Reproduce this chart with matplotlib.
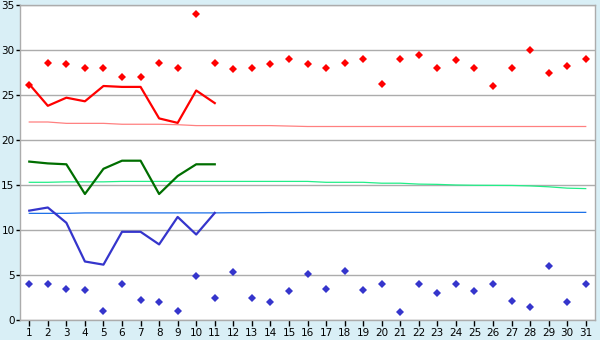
import matplotlib.pyplot as plt

days = list(range(1, 32))

# daily max / min (diamonds)
max_temp = [26.1, 28.6, 28.5, 28.0, 28.0, 27.0, 27.0, 28.6, 28.0, 34.0,
            28.6, 27.85, 28.0, 28.4, 29.0, 28.5, 28.0, 28.6, 29.0, 26.2,
            29.0, 29.5, 28.0, 28.85, 28.0, 26.0, 28.0, 30.0, 27.5, 28.2, 29.0]
min_temp = [4.0, 4.0, 3.4, 3.3, 1.0, 4.0, 2.2, 2.0, 1.0, 4.85,
            2.4, 5.3, 2.5, 2.0, 3.2, 5.1, 3.4, 5.5, 3.3, 4.0,
            0.85, 4.0, 3.0, 4.0, 3.2, 4.0, 2.1, 1.4, 6.0, 2.0, 4.0]

# first 11 days, thick lines
line_days = list(range(1, 12))
max_line = [26.2, 23.8, 24.7, 24.3, 26.0, 25.9, 25.9, 22.4, 21.9, 25.5, 24.1]
mean_line = [17.6, 17.4, 17.3, 14.0, 16.8, 17.7, 17.7, 14.0, 16.0, 17.3, 17.3]
min_line = [12.15, 12.5, 10.8, 6.5, 6.15, 9.8, 9.8, 8.4, 11.45, 9.5, 11.9]

# normals, thin lines
normal_max = [22.0, 22.0, 21.85, 21.85, 21.85, 21.75, 21.75, 21.75, 21.7, 21.6,
              21.6, 21.6, 21.6, 21.6, 21.55, 21.5, 21.5, 21.5, 21.5, 21.5,
              21.5, 21.5, 21.5, 21.5, 21.5, 21.5, 21.5, 21.5, 21.5, 21.5, 21.5]
normal_mean = [15.3, 15.3, 15.35, 15.35, 15.35, 15.4, 15.4, 15.4, 15.4, 15.4,
               15.4, 15.4, 15.4, 15.4, 15.4, 15.4, 15.3, 15.3, 15.3, 15.2,
               15.2, 15.1, 15.07, 15.0, 14.97, 14.96, 14.95, 14.9, 14.8, 14.65, 14.6]
normal_min = [11.85, 11.85, 11.85, 11.9, 11.9, 11.9, 11.9, 11.9, 11.9, 11.9,
              11.9, 11.92, 11.92, 11.94, 11.94, 11.95, 11.95, 11.96, 11.96, 11.96,
              11.96, 11.96, 11.96, 11.96, 11.96, 11.96, 11.96, 11.96, 11.96, 11.96, 11.96]

bg = '#d9eff6'
grid_c = '#acacac'

fig = plt.figure(figsize=(6, 3.4), dpi=100, facecolor=bg)
ax = fig.add_axes([20 / 600, 20 / 340, 575 / 600, 315 / 340])
ax.set_facecolor('white')

ax.plot(days, normal_max, color='#ff8080', lw=0.9)
ax.plot(days, normal_mean, color='#22ee88', lw=0.9)
ax.plot(days, normal_min, color='#1a6fe8', lw=0.9)

ax.plot(line_days, max_line, color='#ff0000', lw=1.6)
ax.plot(line_days, mean_line, color='#006e00', lw=1.6)
ax.plot(line_days, min_line, color='#3535cc', lw=1.6)

ax.plot(days, max_temp, 'D', color='#ff0000', ms=3.8, mew=0)
ax.plot(days, min_temp, 'D', color='#3535cc', ms=3.8, mew=0)

ax.set_xlim(0.5, 31.5)
ax.set_ylim(0, 35)
ax.set_xticks(days)
ax.set_yticks(range(0, 36, 5))
ax.yaxis.grid(True, color=grid_c, lw=1)
ax.set_axisbelow(True)
for s in ax.spines.values():
    s.set_color(grid_c)
    s.set_linewidth(1)
ax.tick_params(axis='x', colors='black', labelsize=7.5, length=4, width=1, pad=1.5)
ax.tick_params(axis='y', colors='black', labelsize=7.5, length=3, width=1, pad=1)

plt.savefig('out.png', dpi=100, facecolor=bg)
